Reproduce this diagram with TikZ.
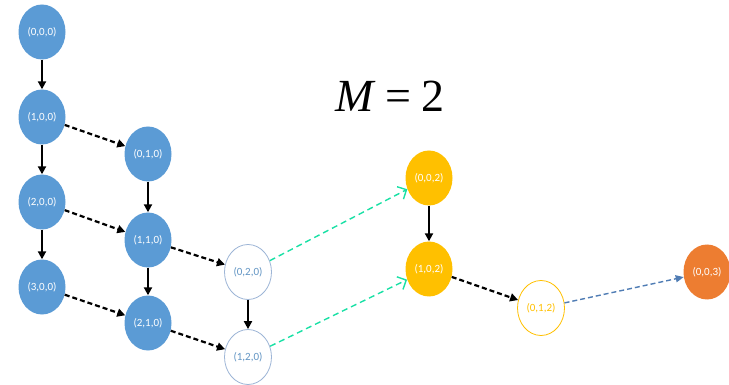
\documentclass[tikz,border=0pt]{standalone}
\usepackage{fontspec}
\setmainfont{Carlito}
\newfontfamily\serifm{Liberation Serif}
\usetikzlibrary{arrows.meta,shapes.geometric}
\definecolor{stblue}{HTML}{5B9BD5}
\definecolor{styellow}{HTML}{FFC000}
\definecolor{storange}{HTML}{ED7D31}
\definecolor{stgreen}{HTML}{19E0A5}
\definecolor{stlink}{HTML}{4F7CB4}
\definecolor{stringc}{HTML}{9DB5D6}
\begin{document}
\begin{tikzpicture}[x=1pt,y=-1pt,
  state/.style={ellipse,minimum width=47pt,minimum height=55pt,inner sep=0pt,
    font=\fontsize{11}{12}\selectfont},
  bluestate/.style={state,fill=stblue,text=white},
  openstate/.style={state,draw=stringc,line width=0.8pt,fill=white,text=stblue!80!gray},
  goldstate/.style={state,fill=styellow,text=white},
  goldopen/.style={state,draw=styellow,line width=0.8pt,fill=white,text=styellow},
  redstate/.style={state,fill=storange,text=white},
  vstep/.style={-{Triangle[length=8pt,width=8pt]},line width=2.2pt,black},
  diagstep/.style={-{Triangle[length=8pt,width=8pt]},line width=2.2pt,black,dash pattern=on 5pt off 3pt},
  jumpstep/.style={-{Straight Barb[length=7pt,width=14pt]},line width=1.4pt,stgreen,dash pattern=on 6pt off 4pt},
  finishstep/.style={-{Triangle[length=8pt,width=7pt]},line width=1.4pt,stlink,dash pattern=on 5pt off 3pt}]
\useasboundingbox (0,0) rectangle (729,385);

% first column
\node[bluestate] (a000) at (42,32) {(0,0,0)};
\node[bluestate] (a100) at (42,117) {(1,0,0)};
\node[bluestate] (a200) at (42,202) {(2,0,0)};
\node[bluestate] (a300) at (42,287) {(3,0,0)};
% second column
\node[bluestate] (a010) at (148,154) {(0,1,0)};
\node[bluestate] (a110) at (148,240) {(1,1,0)};
\node[bluestate] (a210) at (148,323) {(2,1,0)};
% third column
\node[openstate] (a020) at (248,272) {(0,2,0)};
\node[openstate] (a120) at (248,357) {(1,2,0)};
% right group
\node[goldstate] (a002) at (429,178) {(0,0,2)};
\node[goldstate] (a102) at (429,269) {(1,0,2)};
\node[goldopen] (a012) at (541,308) {(0,1,2)};
\node[redstate] (a003) at (707,272) {(0,0,3)};

\node[font=\serifm\fontsize{46}{50}\selectfont] (mlabel) at (390,96)
  {\textit{M}\hspace{0.22em}=\hspace{0.22em}2};

% vertical steps
\draw[vstep] (a000) -- (a100);
\draw[vstep] (a100) -- (a200);
\draw[vstep] (a200) -- (a300);
\draw[vstep] (a010) -- (a110);
\draw[vstep] (a110) -- (a210);
\draw[vstep] (a020) -- (a120);
\draw[vstep] (a002) -- (a102);

% diagonal steps
\draw[diagstep] (a100) -- (a010);
\draw[diagstep] (a200) -- (a110);
\draw[diagstep] (a300) -- (a210);
\draw[diagstep] (a110) -- (a020);
\draw[diagstep] (a210) -- (a120);
\draw[diagstep] (a102) -- (a012);

% jumps to the right group
\draw[jumpstep] (a020) -- (a002);
\draw[jumpstep] (a120) -- (a102);
\draw[finishstep] (a012) -- (a003);
\end{tikzpicture}
\end{document}
